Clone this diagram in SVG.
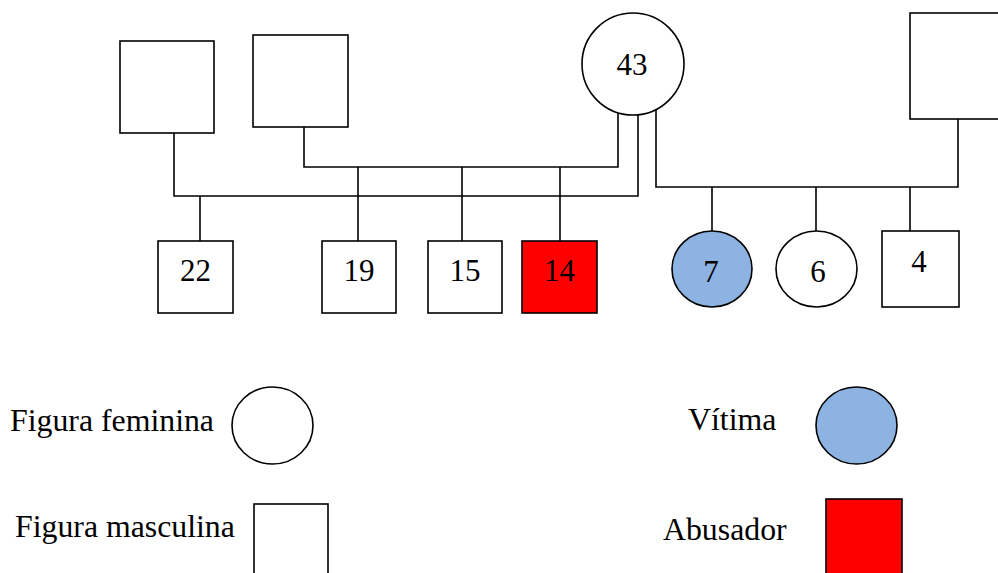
<svg xmlns="http://www.w3.org/2000/svg" width="998" height="573" viewBox="0 0 998 573">
<style>
.s{fill:#fff;stroke:#000;stroke-width:1.6}
.v{fill:#8DB3E2;stroke:#000;stroke-width:1.6}
.r{fill:#FF0000;stroke:#000;stroke-width:1.6}
.c{fill:none;stroke:#000;stroke-width:1.6}
text{font-family:"Liberation Serif","Times New Roman",serif;font-size:31px;fill:#000}
.m{text-anchor:middle}
.l{font-size:31.8px}
</style>
<rect width="998" height="573" fill="#fff"/>
<g id="connectors" class="c">
<polyline points="174,133 174,196 638,196 638,114.8"/>
<polyline points="304,127 304,167 618,167 618,112.7"/>
<polyline points="656,109.5 656,187 958,187 958,119"/>
<line x1="200" y1="196" x2="200" y2="241"/>
<line x1="358" y1="167" x2="358" y2="241"/>
<line x1="462" y1="167" x2="462" y2="241"/>
<line x1="560" y1="167" x2="560" y2="241"/>
<line x1="712" y1="187" x2="712" y2="231"/>
<line x1="816" y1="187" x2="816" y2="231"/>
<line x1="910" y1="187" x2="910" y2="231"/>
</g>
<g id="m1"><rect class="s" x="120" y="41" width="94" height="92"/></g>
<g id="m2"><rect class="s" x="253" y="35" width="95" height="92"/></g>
<g id="f43"><circle class="s" cx="633" cy="64" r="51"/><text class="m" x="632" y="75">43</text></g>
<g id="m3"><rect class="s" x="910" y="13" width="96" height="106"/></g>
<g id="c22"><rect class="s" x="158" y="241" width="75" height="72"/><text class="m" x="195.5" y="281">22</text></g>
<g id="c19"><rect class="s" x="322" y="241" width="74" height="72"/><text class="m" x="359" y="281">19</text></g>
<g id="c15"><rect class="s" x="428" y="241" width="74" height="72"/><text class="m" x="465" y="281">15</text></g>
<g id="c14"><rect class="r" x="522" y="241" width="75" height="72"/><text class="m" x="559.5" y="281">14</text></g>
<g id="c7"><ellipse class="v" cx="712" cy="269" rx="40" ry="38"/><text class="m" x="711" y="282">7</text></g>
<g id="c6"><ellipse class="s" cx="816.5" cy="269" rx="40.5" ry="38"/><text class="m" x="818" y="282">6</text></g>
<g id="c4"><rect class="s" x="882" y="231" width="77" height="76"/><text class="m" x="919" y="272">4</text></g>
<g id="legend">
<text class="l" x="10" y="431">Figura feminina</text>
<ellipse class="s" cx="272.5" cy="425.5" rx="40.5" ry="38.5"/>
<text class="l" x="15" y="537">Figura masculina</text>
<rect class="s" x="254" y="504" width="74" height="76"/>
<text class="l" x="688" y="430">Vítima</text>
<ellipse class="v" cx="856.5" cy="425.5" rx="40.5" ry="38.5"/>
<text class="l" x="663" y="540">Abusador</text>
<rect class="r" x="826" y="499" width="76" height="80"/>
</g>
</svg>
